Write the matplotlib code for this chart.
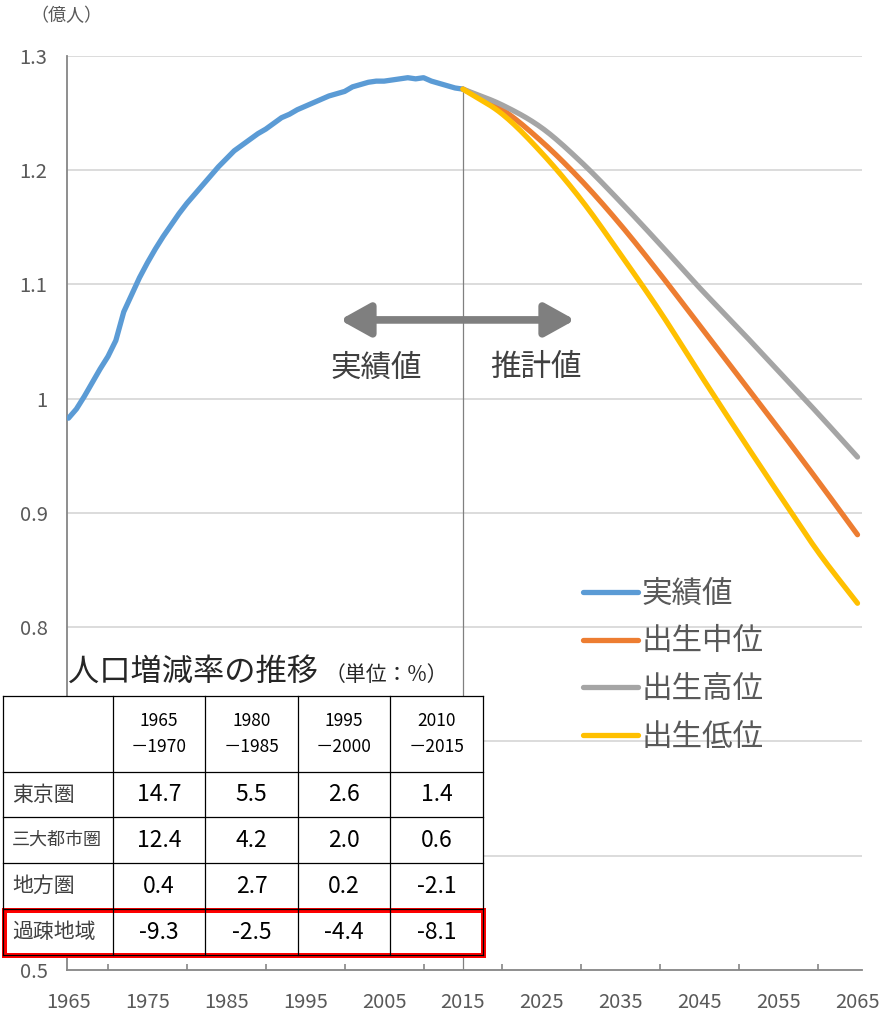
import numpy as np
import matplotlib
matplotlib.use('Agg')
import matplotlib.pyplot as plt
from matplotlib.patches import FancyArrowPatch, Rectangle
from matplotlib.lines import Line2D

plt.rcParams['font.family'] = ['Noto Sans CJK JP', 'DejaVu Sans']

# 実績値 (億人)
anos = np.arange(1965, 2016)
pop = [0.983, 0.991, 1.002, 1.014, 1.026, 1.037, 1.051, 1.076, 1.091, 1.106,
       1.119, 1.131, 1.142, 1.152, 1.162, 1.171, 1.179, 1.187, 1.195, 1.203,
       1.210, 1.217, 1.222, 1.227, 1.232, 1.236, 1.241, 1.246, 1.249, 1.253,
       1.256, 1.259, 1.262, 1.265, 1.267, 1.269, 1.273, 1.275, 1.277, 1.278,
       1.278, 1.279, 1.280, 1.281, 1.280, 1.281, 1.278, 1.276, 1.274, 1.272,
       1.271]

# 推計値 (5年毎)
anos_p = [2015, 2020, 2025, 2030, 2035, 2040, 2045, 2050, 2055, 2060, 2065]
chuui = [1.271, 1.253, 1.225, 1.191, 1.152, 1.109, 1.064, 1.019, 0.974, 0.928, 0.881]
koui = [1.271, 1.257, 1.237, 1.207, 1.172, 1.135, 1.097, 1.061, 1.024, 0.987, 0.949]
teii = [1.271, 1.249, 1.215, 1.174, 1.126, 1.076, 1.022, 0.969, 0.917, 0.866, 0.821]

series_labels = ['実績値', '出生中位', '出生高位', '出生低位']
cores = ['#5b9bd5', '#ed7d31', '#a5a5a5', '#ffc000']

y_ticks = [0.5, 0.6, 0.7, 0.8, 0.9, 1.0, 1.1, 1.2, 1.3]
y_labels = ['0.5', '0.6', '0.7', '0.8', '0.9', '1', '1.1', '1.2', '1.3']
x_labels = list(range(1965, 2066, 10))

# tabela
tab_title = '人口増減率の推移'
tab_unit = '（単位：%）'
periodos = ['1965\n－1970', '1980\n－1985', '1995\n－2000', '2010\n－2015']
regioes = ['東京圏', '三大都市圏', '地方圏', '過疎地域']
taxas = [['14.7', '5.5', '2.6', '1.4'],
         ['12.4', '4.2', '2.0', '0.6'],
         ['0.4', '2.7', '0.2', '-2.1'],
         ['-9.3', '-2.5', '-4.4', '-8.1']]


def suave(x, y, n=20):
    # linha suavizada tipo Excel (Catmull-Rom)
    x = np.asarray(x, float)
    y = np.asarray(y, float)
    px = np.concatenate([[2*x[0]-x[1]], x, [2*x[-1]-x[-2]]])
    py = np.concatenate([[2*y[0]-y[1]], y, [2*y[-1]-y[-2]]])
    t = np.linspace(0, 1, n, endpoint=False)
    xs, ys = [], []
    for i in range(1, len(px)-2):
        for p, out in ((px, xs), (py, ys)):
            p0, p1, p2, p3 = p[i-1], p[i], p[i+1], p[i+2]
            out.extend(0.5*((2*p1) + (-p0+p2)*t + (2*p0-5*p1+4*p2-p3)*t**2
                            + (-p0+3*p1-3*p2+p3)*t**3))
    xs.append(x[-1])
    ys.append(y[-1])
    return xs, ys


W, H = 885, 1013
fig = plt.figure(figsize=(W/100, H/100), dpi=100)
ax = fig.add_axes([67/W, 1 - 970/H, (862-67)/W, (970-56)/H])

ax.set_xlim(1964.81, 2065.57)
ax.set_ylim(0.5, 1.3)

for y in y_ticks[1:]:
    ax.axhline(y, color='#d9d9d9', lw=1.3, zorder=0)

ax.plot(anos, pop, color=cores[0], lw=3.8, solid_capstyle='round', zorder=3)
for serie, c in zip([chuui, koui, teii], cores[1:]):
    ax.plot(*suave(anos_p, serie), color=c, lw=3.8, solid_capstyle='round', zorder=3)

ax.plot([2015, 2015], [0.5, pop[-1]], color='#808080', lw=0.9, zorder=2)

# seta 実績値 <-> 推計値
seta = FancyArrowPatch((1999.4, 1.069), (2029.2, 1.069),
                       arrowstyle='<|-|>,head_length=0.9,head_width=0.5',
                       mutation_scale=20, lw=5.5, color='#7f7f7f',
                       shrinkA=0, shrinkB=0, zorder=4)
ax.add_patch(seta)
ax.text(2004.0, 1.027, '実績値', fontsize=22, color='#404040', ha='center', va='center')
ax.text(2024.3, 1.027, '推計値', fontsize=22, color='#404040', ha='center', va='center')

for s in ['top', 'right']:
    ax.spines[s].set_visible(False)
for s in ['left', 'bottom']:
    ax.spines[s].set_color('#868686')
    ax.spines[s].set_linewidth(1.3)

ax.set_yticks(y_ticks)
ax.set_yticklabels(y_labels)
ax.tick_params(axis='y', length=0, pad=14, labelsize=14.5, labelcolor='#595959')
ax.set_xticks(x_labels)
ax.set_xticklabels([str(a) for a in x_labels])
ax.tick_params(axis='x', length=0, pad=16, labelsize=14.5, labelcolor='#595959')
ax.set_xticks(list(range(1970, 2066, 10)) + [2065], minor=True)
ax.tick_params(axis='x', which='minor', direction='in', length=4, width=1.2, color='#868686')

fig.text(30/W, 1 - 16/H, '（億人）', fontsize=13, color='#595959', va='center')

handles = [Line2D([], [], color=c, lw=3.8, solid_capstyle='round') for c in cores]
ax.legend(handles, series_labels, loc='upper left', bbox_to_anchor=(583/W, 1 - 579/H),
          bbox_transform=fig.transFigure, frameon=False, fontsize=22,
          handlelength=1.8, handletextpad=0.1, labelspacing=0.54,
          borderpad=0, borderaxespad=0, labelcolor='#595959')

# tabela por cima
tb = fig.add_axes([0, 0, 1, 1], zorder=10)
tb.set_xlim(0, W)
tb.set_ylim(H, 0)
tb.axis('off')
tb.patch.set_alpha(0)

xs = [3, 113, 205, 298, 390, 483]
ys = [696, 772, 817, 863, 909, 955]
tb.add_patch(Rectangle((xs[0], ys[0]), xs[-1]-xs[0], ys[-1]-ys[0], facecolor='white', edgecolor='none'))
for x in xs:
    tb.plot([x, x], [ys[0], ys[-1]], color='black', lw=0.9)
for y in ys:
    tb.plot([xs[0], xs[-1]], [y, y], color='black', lw=0.9)

for j, p in enumerate(periodos):
    tb.text((xs[j+1]+xs[j+2])/2, (ys[0]+ys[1])/2, p, fontsize=12.5, ha='center', va='center',
            linespacing=1.6)
tam_reg = [15, 13, 15, 15]
for i, r in enumerate(regioes):
    yc = (ys[i+1]+ys[i+2])/2
    tb.text(xs[0]+9, yc, r, fontsize=tam_reg[i], color='#404040', ha='left', va='center')
    for j, v in enumerate(taxas[i]):
        tb.text((xs[j+1]+xs[j+2])/2, yc, v, fontsize=16.5, ha='center', va='center')

tb.add_patch(Rectangle((4, 910), 479, 45, facecolor='none', edgecolor='#ff0000', lw=3.6))

tb.text(68, 681, tab_title, fontsize=22.5, color='#262626', ha='left', va='baseline')
tb.text(325, 681, tab_unit, fontsize=15, color='#262626', ha='left', va='baseline')

plt.savefig('out.png', dpi=100)
